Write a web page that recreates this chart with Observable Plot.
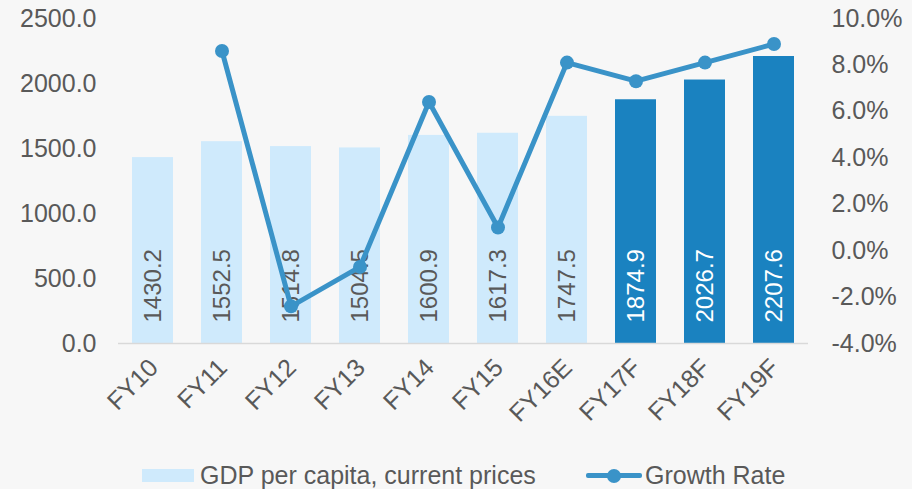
<!DOCTYPE html>
<html><head><meta charset="utf-8">
<script src="https://cdn.jsdelivr.net/npm/d3@7"></script>
<script src="https://cdn.jsdelivr.net/npm/@observablehq/plot@0.6"></script>
<style>
body{margin:0;background:#f7f7f7;font-family:"Liberation Sans",Arial,sans-serif;}
#wrap{width:912px;height:489px;overflow:hidden;position:relative;}
#wrap svg{display:block;}
.legend{position:relative;height:51px;font-size:25px;color:#595959;}
.legend .item{position:absolute;top:0;height:51px;display:flex;align-items:center;}
.sw{width:52px;height:13px;background:#cfeafc;margin-right:6px;}
.ln{position:relative;width:56px;height:5px;background:#3a93c8;margin-right:3px;border-radius:2px;}
.ln::after{content:"";position:absolute;left:21px;top:-4.5px;width:14px;height:14px;border-radius:50%;background:#3a93c8;}
</style></head><body><div id="wrap"></div>
<script>
const categories = ["FY10","FY11","FY12","FY13","FY14","FY15","FY16E","FY17F","FY18F","FY19F"];
const gdpPerCapita = [1430.2, 1552.5, 1514.8, 1504.5, 1600.9, 1617.3, 1747.5, 1874.9, 2026.7, 2207.6];
const growthRate = [null, 8.6, -2.4, -0.7, 6.4, 1.0, 8.1, 7.3, 8.1, 8.9];
const isForecast = [false, false, false, false, false, false, false, true, true, true];
const leftTicks = [0, 500, 1000, 1500, 2000, 2500];
const rightTicks = [-4, -2, 0, 2, 4, 6, 8, 10];

const colors = {light: "#cfeafc", dark: "#1a82c0", line: "#3a93c8", text: "#595959", axis: "#d9d9d9"};

const data = categories.map((c, i) => ({cat: c, gdp: gdpPerCapita[i], growth: growthRate[i], forecast: isForecast[i]}));
const yMax = leftTicks[leftTicks.length - 1];
const gMin = rightTicks[0], gMax = rightTicks[rightTicks.length - 1];
const toY = g => (g - gMin) / (gMax - gMin) * yMax;
const fromY = v => gMin + v / yMax * (gMax - gMin);
const growthData = data.filter(d => d.growth != null);

const chart = Plot.plot({
  width: 912,
  height: 450,
  marginLeft: 118,
  marginRight: 104,
  marginTop: 18,
  marginBottom: 107,
  style: {background: "transparent", fontFamily: "Liberation Sans, Arial, sans-serif", fontSize: "25px", color: colors.text},
  x: {domain: categories, paddingInner: 0.406, paddingOuter: 0.203, axis: null, label: null},
  y: {domain: [0, yMax], axis: null, label: null},
  marks: [
    Plot.barY(data, {x: "cat", y: "gdp", fill: colors.light, filter: d => !d.forecast}),
    Plot.barY(data, {x: "cat", y: "gdp", fill: colors.dark, filter: d => d.forecast}),
    Plot.ruleY([0], {stroke: colors.axis, strokeWidth: 1.5}),
    Plot.text(data, {x: "cat", y: () => 0, text: d => d.gdp.toFixed(1), rotate: -90, textAnchor: "start", lineAnchor: "middle", dy: -21, fontSize: 24, fill: colors.text, filter: d => !d.forecast}),
    Plot.text(data, {x: "cat", y: () => 0, text: d => d.gdp.toFixed(1), rotate: -90, textAnchor: "start", lineAnchor: "middle", dy: -21, fontSize: 24, fill: "white", filter: d => d.forecast}),
    Plot.line(growthData, {x: "cat", y: d => toY(d.growth), stroke: colors.line, strokeWidth: 5}),
    Plot.dot(growthData, {x: "cat", y: d => toY(d.growth), r: 7, fill: colors.line}),
    Plot.axisY(leftTicks, {anchor: "left", tickSize: 0, tickPadding: 22, tickFormat: d => d.toFixed(1), fontSize: 25, fill: colors.text, label: null}),
    Plot.axisY(rightTicks.map(toY), {anchor: "right", tickSize: 0, tickPadding: 23, tickFormat: v => fromY(v).toFixed(1) + "%", fontSize: 25, fill: colors.text, label: null}),
    Plot.axisX(categories, {tickSize: 0, tickRotate: -45, tickPadding: 20, dx: 1, fontSize: 25, fill: colors.text, label: null})
  ]
});

const wrap = document.getElementById("wrap");
wrap.appendChild(chart);
const legend = document.createElement("div");
legend.className = "legend";
legend.innerHTML = `<div class="item" style="left:142px"><div class="sw"></div><span>GDP per capita, current prices</span></div>
<div class="item" style="left:586px"><div class="ln"></div><span>Growth Rate</span></div>`;
wrap.appendChild(legend);
</script>
</body></html>
